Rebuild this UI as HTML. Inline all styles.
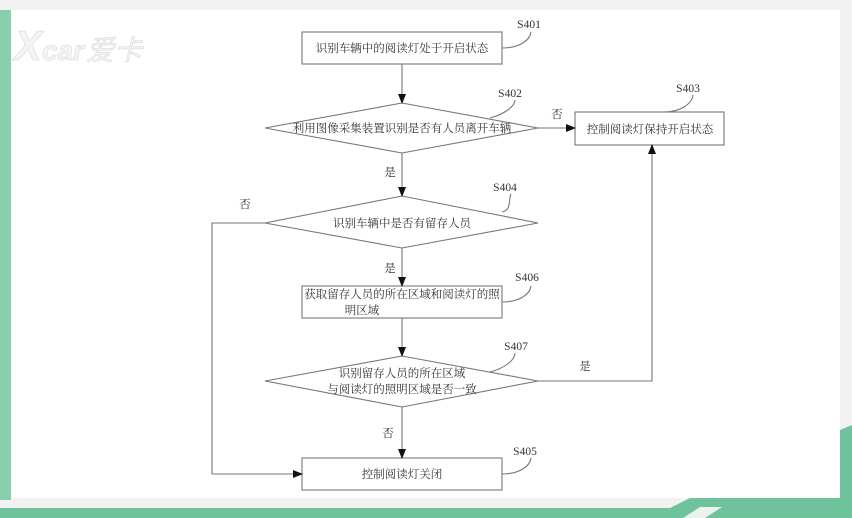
<!DOCTYPE html>
<html><head><meta charset="utf-8"><style>
html,body{margin:0;padding:0;width:852px;height:518px;overflow:hidden;background:#f1f2f1;}
svg{display:block}
text{font-family:"Liberation Serif","Noto Serif CJK SC",serif;font-size:11.5px;fill:#333;}
</style></head><body>
<svg width="852" height="518" viewBox="0 0 852 518">
<defs><marker id="a" markerWidth="10" markerHeight="10" refX="9" refY="5" orient="auto" markerUnits="userSpaceOnUse"><path d="M0,1 L10,5 L0,9 Z" fill="#111"/></marker></defs>
<rect x="0" y="0" width="852" height="518" fill="#f1f2f1"/>
<rect x="0" y="10" width="11" height="490" fill="#86d0ac"/>
<rect x="11" y="10" width="829" height="488" fill="#fff"/>
<polygon points="840,430 852,425 852,518 840,518" fill="#6fc39c"/>
<polygon points="0,508 670,508 690,498 852,498 852,518 0,518" fill="#6fc39c"/>
<polygon points="683,518 700,507 722,507 705,518" fill="#eef2ef"/>
<text x="14" y="60" style="font-family:'Liberation Sans',sans-serif;font-size:42px;font-weight:bold;fill:#f4f4f4;stroke:#ddd;stroke-width:0.7;font-style:italic">X<tspan font-size="28">car</tspan><tspan font-size="28" dx="2" style="font-family:'Noto Sans CJK SC',sans-serif;font-weight:normal">爱卡</tspan></text>
<g stroke="#777" stroke-width="1.1" fill="none">
<rect x="302" y="32" width="200" height="32"/>
<polygon points="265,128 402,103 538,128 402,153"/>
<rect x="575" y="112" width="149" height="33"/>
<polygon points="265,223 402,196 538,223 402,248"/>
<rect x="302" y="286" width="200" height="32"/>
<polygon points="265,381 402,356 538,381 402,407"/>
<rect x="302" y="458" width="200" height="32"/>
<line x1="402" y1="64" x2="402" y2="103" marker-end="url(#a)"/>
<line x1="538" y1="128" x2="575" y2="128" marker-end="url(#a)"/>
<line x1="402" y1="153" x2="402" y2="196" marker-end="url(#a)"/>
<polyline points="265,223 212,223 212,474 302,474" marker-end="url(#a)"/>
<line x1="402" y1="248" x2="402" y2="286" marker-end="url(#a)"/>
<line x1="402" y1="318" x2="402" y2="356" marker-end="url(#a)"/>
<polyline points="538,381 652,381 652,145" marker-end="url(#a)"/>
<line x1="402" y1="407" x2="402" y2="458" marker-end="url(#a)"/>
<path d="M502,48 C520,48 530,40 531,32"/>
<path d="M490,118 C505,114 515,106 515,100"/>
<path d="M664,112 C680,112 692,104 693,95"/>
<path d="M502,212 C512,210 508,200 511,194"/>
<path d="M502,302 C520,302 530,294 531,286"/>
<path d="M490,372 C505,368 515,360 515,353"/>
<path d="M502,474 C520,474 530,466 531,458"/>
</g>
<g text-anchor="middle">
<text x="402" y="52">识别车辆中的阅读灯处于开启状态</text>
<text x="402" y="132">利用图像采集装置识别是否有人员离开车辆</text>
<text x="650" y="133">控制阅读灯保持开启状态</text>
<text x="402" y="227">识别车辆中是否有留存人员</text>
<text x="402" y="298">获取留存人员的所在区域和阅读灯的照</text>
<text x="362" y="314">明区域</text>
<text x="402" y="377">识别留存人员的所在区域</text>
<text x="402" y="393">与阅读灯的照明区域是否一致</text>
<text x="402" y="478">控制阅读灯关闭</text>
<text x="529" y="28">S401</text>
<text x="510" y="97">S402</text>
<text x="688" y="92">S403</text>
<text x="505" y="191">S404</text>
<text x="527" y="281">S406</text>
<text x="516" y="350">S407</text>
<text x="525" y="455">S405</text>
<text x="557" y="118">否</text>
<text x="390" y="176">是</text>
<text x="245" y="208">否</text>
<text x="390" y="272">是</text>
<text x="585" y="370">是</text>
<text x="388" y="437">否</text>
</g>
</svg>
</body></html>
